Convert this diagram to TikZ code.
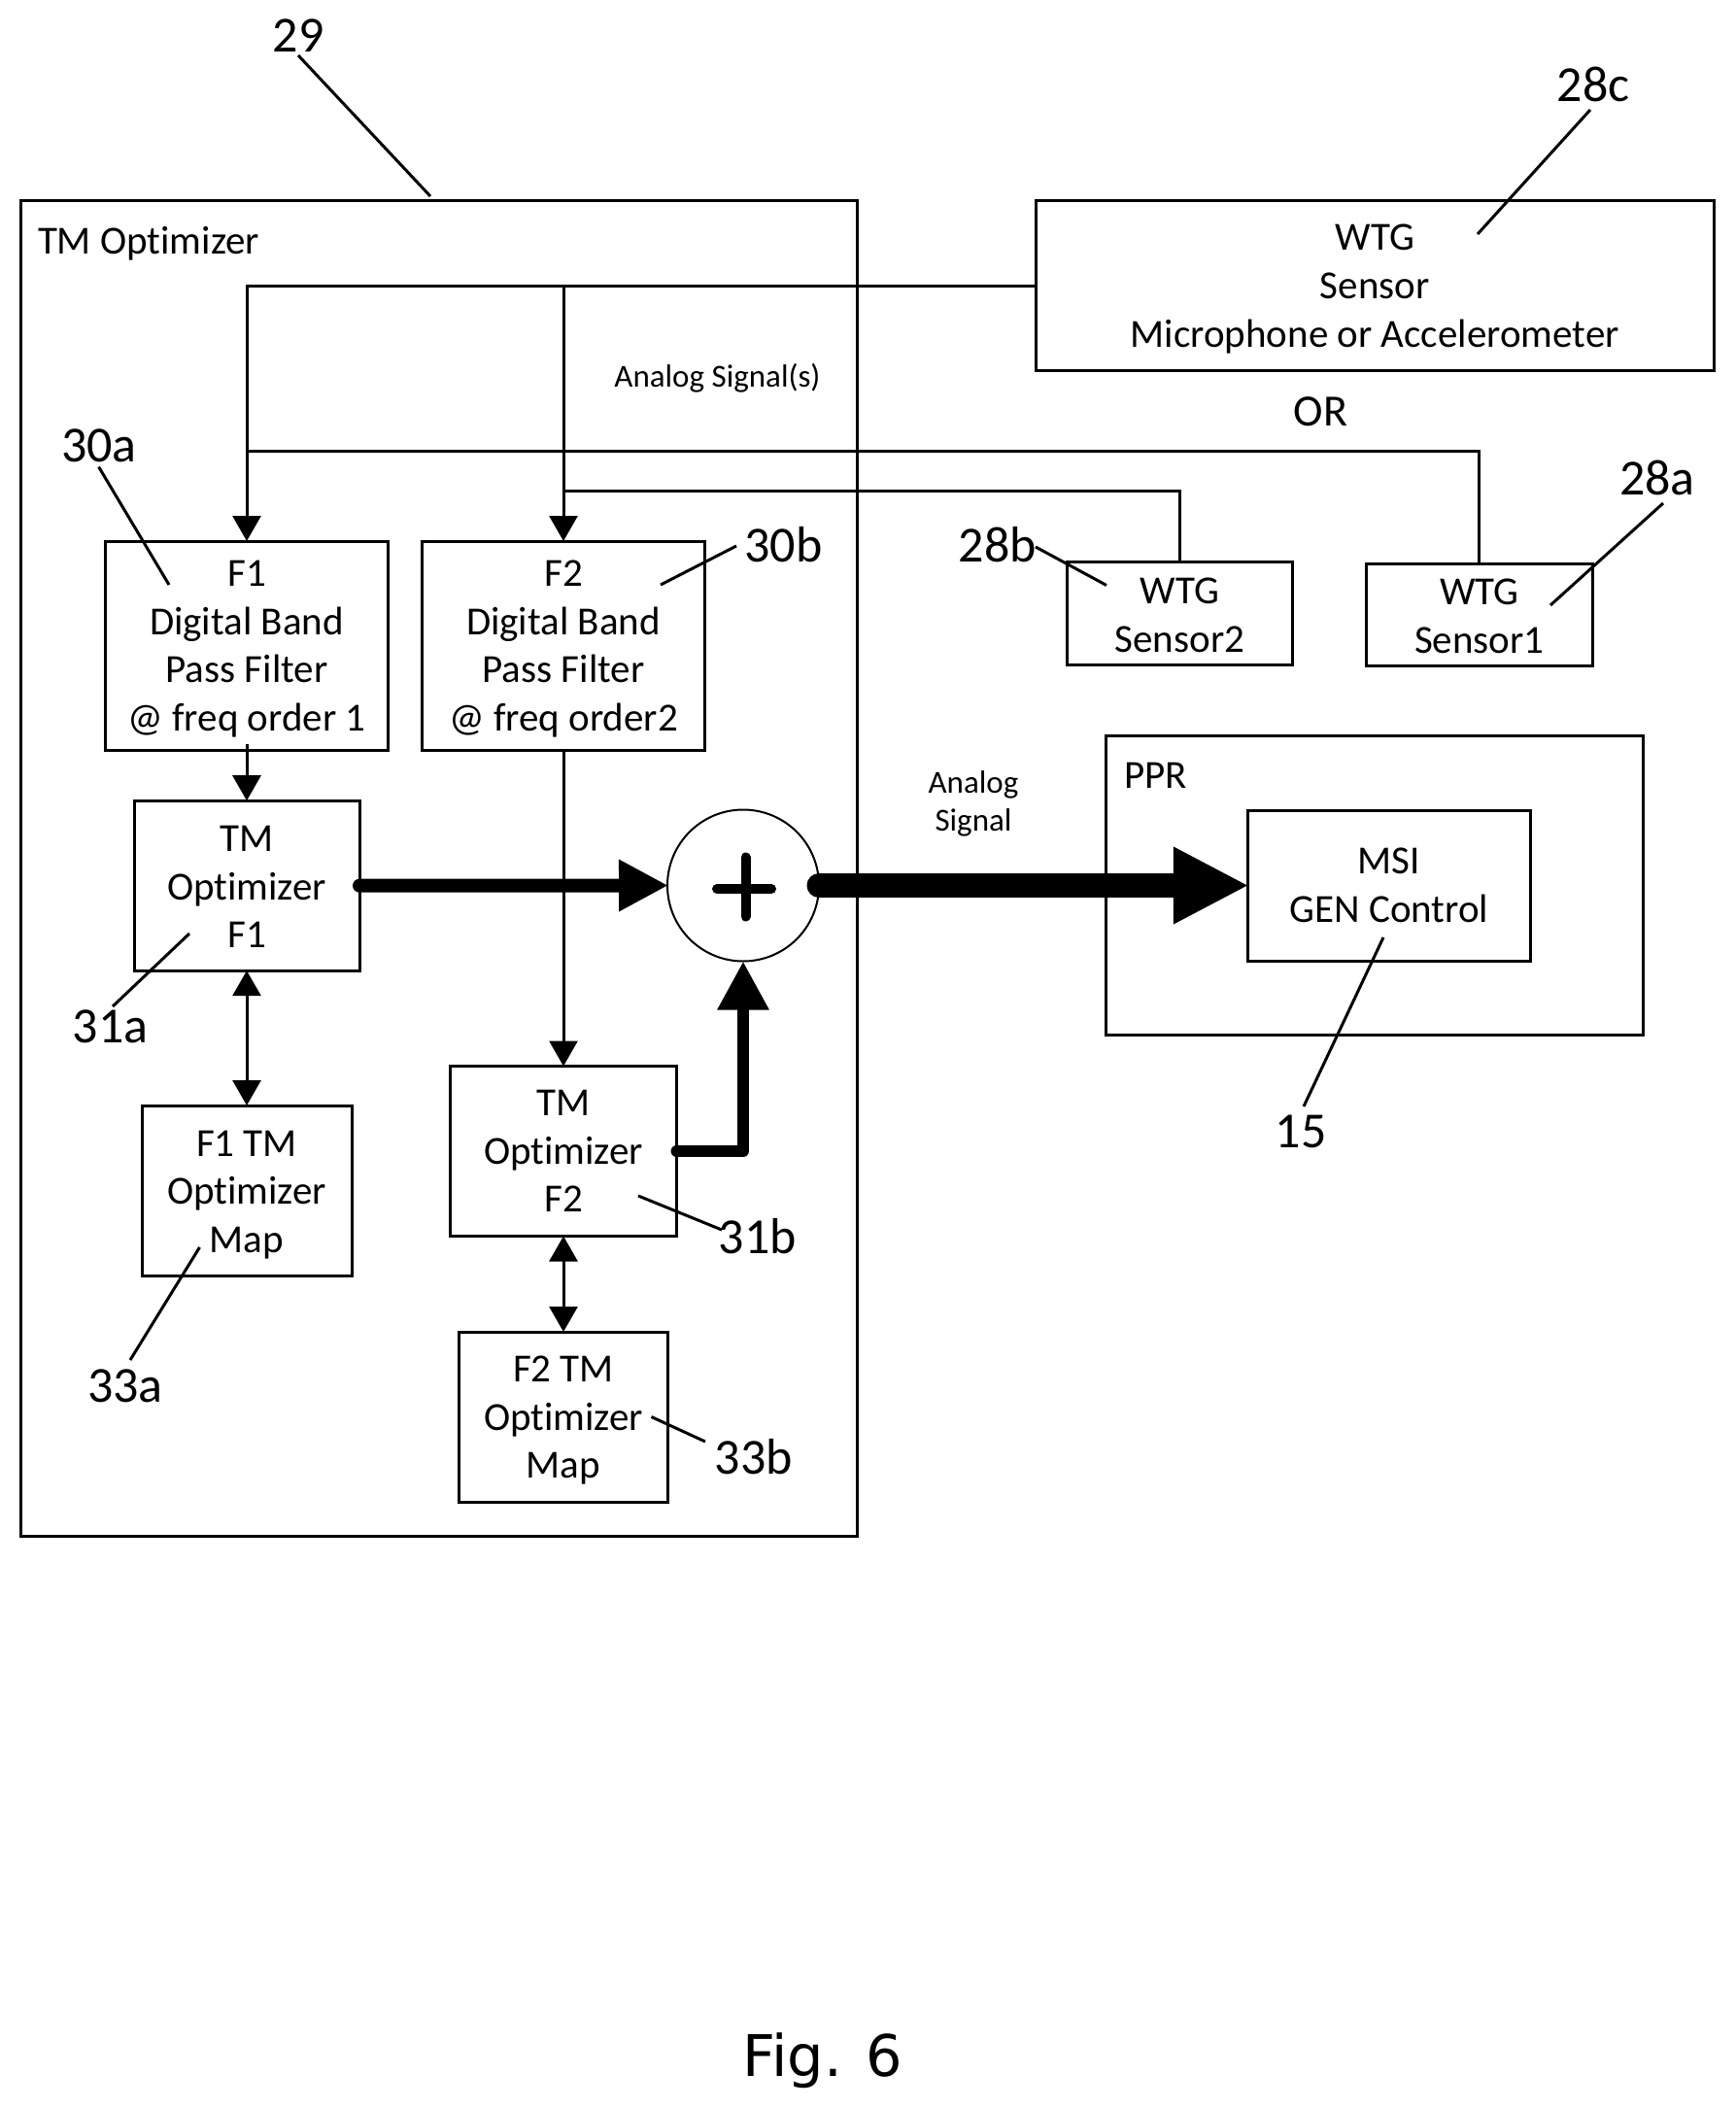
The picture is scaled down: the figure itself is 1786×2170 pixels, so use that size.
\documentclass[tikz,border=0pt]{standalone}
\usepackage{fontspec}
\setmainfont[Ligatures=NoCommon]{Carlito}
\newfontfamily\figfont{DejaVu Sans}
\usetikzlibrary{arrows.meta}
\newcommand{\lift}[1]{\rule{0pt}{#1pt}}
\tikzset{
  x=1pt,y=-1pt,
  box/.style={draw=black,line width=3pt,inner sep=0pt,outer sep=0pt,align=center,
    font=\fontsize{41}{49.5}\selectfont},
  wire/.style={draw=black,line width=3pt},
  tiny arrow/.style={wire,-{Triangle[length=26pt,width=29pt]}},
  both arrow/.style={wire,{Triangle[length=26pt,width=29pt]}-{Triangle[length=26pt,width=29pt]}},
  lead/.style={draw=black,line width=3pt},
  reflabel/.style={inner sep=0pt,outer sep=0pt,font=\fontsize{52}{54}\selectfont},
  caption/.style={inner sep=0pt,outer sep=0pt,font=\fontsize{41}{49}\selectfont},
  smallcap/.style={inner sep=0pt,outer sep=0pt,align=center,font=\fontsize{33}{39}\selectfont},
}
\begin{document}
\begin{tikzpicture}
\useasboundingbox[fill=white] (0,0) rectangle (1786,2170);
% containers
\node[box,minimum width=861pt,minimum height=1375pt] (outer) at (451.5,894) {};
\node[box,minimum width=553pt,minimum height=308pt] (ppr) at (1414.5,911) {};
% blocks
\node[box,minimum width=698.5pt,minimum height=175pt,font=\fontsize{41}{50}\selectfont] (wtg) at (1415.25,294) {\lift{34}WTG\\Sensor\\Microphone or Accelerometer};
\node[box,minimum width=232pt,minimum height=106pt,font=\fontsize{41}{50}\selectfont] (s2) at (1214.5,631.6) {\lift{30}WTG\\Sensor2};
\node[box,minimum width=233.5pt,minimum height=105.5pt,font=\fontsize{41}{50}\selectfont] (s1) at (1522.8,632.8) {\lift{30}WTG\\Sensor1};
\node[box,minimum width=291pt,minimum height=215pt] (f1) at (254,664.5) {\lift{34}F1\\Digital Band\\Pass Filter\\@ freq order 1};
\node[box,minimum width=291pt,minimum height=215pt] (f2) at (580,664.5) {\lift{34}F2\\Digital Band\\Pass Filter\\@ freq order2};
\node[box,minimum width=232pt,minimum height=175pt] (tm1) at (254,911.7) {\lift{29}TM\\Optimizer\\F1};
\node[box,minimum width=216pt,minimum height=175pt] (map1) at (254,1225.5) {\lift{35}F1 TM\\Optimizer\\Map};
\node[box,minimum width=233pt,minimum height=175pt] (tm2) at (580,1185) {TM\\Optimizer\\F2};
\node[box,minimum width=215pt,minimum height=175pt] (map2) at (580,1458.5) {\lift{34}F2 TM\\Optimizer\\Map};
\node[box,minimum width=290.5pt,minimum height=155pt] (msi) at (1430,911.5) {MSI\\GEN Control};
\node[draw=black,line width=2pt,circle,minimum size=156pt,inner sep=0pt,outer sep=0pt] (sum) at (765,911.5) {};
% captions
\node[caption,anchor=west] (tmcap) at (39,251) {TM Optimizer};
\node[caption,anchor=west] (pprcap) at (1157,798.5) {PPR};
\node[caption] (orcap) at (1359.5,423.5) {\fontsize{46}{50}\selectfont OR};
\node[smallcap] (ascap) at (738.5,389.5) {Analog Signal(s)};
\node[smallcap] (sigcap) at (1002,827.5) {Analog\\Signal};
\node[inner sep=0pt,outer sep=0pt,font=\figfont\fontsize{59}{60}\selectfont] (figcap) at (847,2121) {Fig. 6};
% buses
\coordinate (busA) at (254,464);
\coordinate (busB) at (580,505);
\draw[tiny arrow] (wtg.west) -| (f1.north);
\draw[tiny arrow] (wtg.west -| f2.north) -- (f2.north);
\draw[wire] (s1.north) |- (busA);
\draw[wire] (s2.north) |- (busB);
\draw[tiny arrow] ([yshift=6pt]f1.south) -- (tm1.north);
\draw[tiny arrow] (f2.south) -- (tm2.north);
\draw[both arrow] (tm1.south) -- (map1.north);
\draw[both arrow] (tm2.south) -- (map2.north);
% thick signal arrows
\draw[draw=black,line width=14pt,line cap=round,-{Triangle[length=51pt,width=50pt]}] (tm1.east) -- ([xshift=1pt]sum.west);
\coordinate (elbow) at (sum.south |- tm2.east);
\draw[draw=black,line width=12pt,line cap=round,line join=round,-{Triangle[length=50pt,width=50pt]}] (tm2.east) -- (elbow) -- (sum.south);
\draw[draw=black,line width=25pt,line cap=round,-{Triangle[length=78pt,width=74pt]}] (sum.east) -- ([xshift=1pt]msi.west);
% plus sign
\draw[draw=black,line width=10pt,line cap=round] ([shift={(-27,3.5)}]sum.center) -- ([shift={(29,3.5)}]sum.center);
\draw[draw=black,line width=10pt,line cap=round] ([shift={(2.5,-29)}]sum.center) -- ([shift={(2.5,32)}]sum.center);
% reference labels
\node[reflabel] (l29) at (307,37) {29};
\node[reflabel] (l28c) at (1640,87) {28c};
\node[reflabel] (l28a) at (1706,492) {28a};
\node[reflabel] (l28b) at (1027,561) {28b};
\node[reflabel] (l30a) at (102,459) {30a};
\node[reflabel] (l30b) at (806.5,561) {30b};
\node[reflabel] (l31a) at (113.7,1057) {31a};
\node[reflabel] (l31b) at (780,1273) {31b};
\node[reflabel] (l33a) at (129,1427) {33a};
\node[reflabel] (l33b) at (776,1500) {33b};
\node[reflabel] (l15) at (1339,1165) {15};
% leaders
\coordinate (e29) at (443,202);  \coordinate (t29) at (307,57);
\coordinate (e28c) at (1521,241); \coordinate (t28c) at (1637,113);
\coordinate (e28a) at (1596,623); \coordinate (t28a) at (1712,518);
\coordinate (e28b) at (1139,602.5); \coordinate (t28b) at (1066,563);
\coordinate (e30a) at (174,602); \coordinate (t30a) at (101.6,480.6);
\coordinate (e30b) at (680,602); \coordinate (t30b) at (758,562);
\coordinate (e31a) at (195,961); \coordinate (t31a) at (116,1036);
\coordinate (e31b) at (657,1231); \coordinate (t31b) at (743,1266);
\coordinate (e33a) at (205.5,1284); \coordinate (t33a) at (134,1400);
\coordinate (e33b) at (670.5,1458.5); \coordinate (t33b) at (726,1484);
\coordinate (e15) at (1424,965); \coordinate (t15) at (1342,1139);
\foreach \n in {29,28c,28a,28b,30a,30b,31a,31b,33a,33b,15}{
  \draw[lead] (t\n) -- (e\n);
}
\end{tikzpicture}
\end{document}
